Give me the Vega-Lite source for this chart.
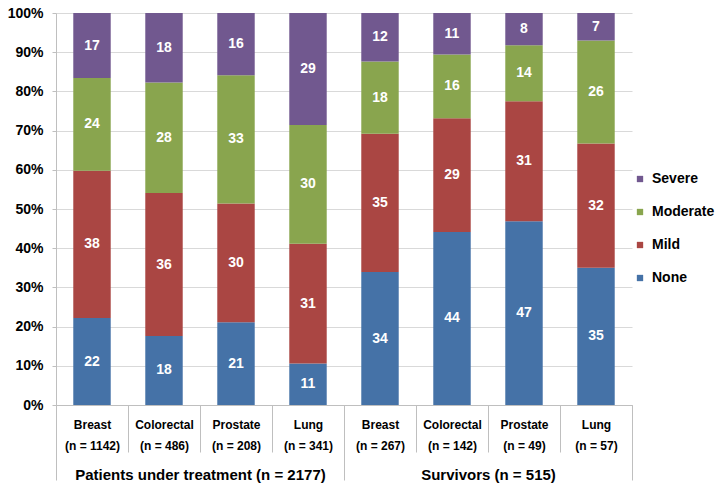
{
  "$schema": "https://vega.github.io/schema/vega-lite/v6.json",
  "autosize": "none",
  "width": 576,
  "height": 392,
  "padding": {"left": 56, "top": 13, "right": 90, "bottom": 84},
  "background": "white",
  "config": {"view": {"stroke": null}, "font": "Liberation Sans"},
  "data": {"values": [
    {"group": "Patients under treatment (n = 2177)", "bar": "Breast|(n = 1142)", "severity": "None", "value": 22.2},
    {"group": "Patients under treatment (n = 2177)", "bar": "Breast|(n = 1142)", "severity": "Mild", "value": 37.6},
    {"group": "Patients under treatment (n = 2177)", "bar": "Breast|(n = 1142)", "severity": "Moderate", "value": 23.7},
    {"group": "Patients under treatment (n = 2177)", "bar": "Breast|(n = 1142)", "severity": "Severe", "value": 16.6},
    {"group": "Patients under treatment (n = 2177)", "bar": "Colorectal|(n = 486)", "severity": "None", "value": 17.6},
    {"group": "Patients under treatment (n = 2177)", "bar": "Colorectal|(n = 486)", "severity": "Mild", "value": 36.4},
    {"group": "Patients under treatment (n = 2177)", "bar": "Colorectal|(n = 486)", "severity": "Moderate", "value": 28.2},
    {"group": "Patients under treatment (n = 2177)", "bar": "Colorectal|(n = 486)", "severity": "Severe", "value": 17.7},
    {"group": "Patients under treatment (n = 2177)", "bar": "Prostate|(n = 208)", "severity": "None", "value": 21.1},
    {"group": "Patients under treatment (n = 2177)", "bar": "Prostate|(n = 208)", "severity": "Mild", "value": 30.3},
    {"group": "Patients under treatment (n = 2177)", "bar": "Prostate|(n = 208)", "severity": "Moderate", "value": 32.7},
    {"group": "Patients under treatment (n = 2177)", "bar": "Prostate|(n = 208)", "severity": "Severe", "value": 15.9},
    {"group": "Patients under treatment (n = 2177)", "bar": "Lung|(n = 341)", "severity": "None", "value": 10.6},
    {"group": "Patients under treatment (n = 2177)", "bar": "Lung|(n = 341)", "severity": "Mild", "value": 30.6},
    {"group": "Patients under treatment (n = 2177)", "bar": "Lung|(n = 341)", "severity": "Moderate", "value": 30.3},
    {"group": "Patients under treatment (n = 2177)", "bar": "Lung|(n = 341)", "severity": "Severe", "value": 28.6},
    {"group": "Survivors (n = 515)", "bar": "Breast|(n = 267)", "severity": "None", "value": 33.9},
    {"group": "Survivors (n = 515)", "bar": "Breast|(n = 267)", "severity": "Mild", "value": 35.3},
    {"group": "Survivors (n = 515)", "bar": "Breast|(n = 267)", "severity": "Moderate", "value": 18.4},
    {"group": "Survivors (n = 515)", "bar": "Breast|(n = 267)", "severity": "Severe", "value": 12.4},
    {"group": "Survivors (n = 515)", "bar": "Colorectal|(n = 142)", "severity": "None", "value": 44.2},
    {"group": "Survivors (n = 515)", "bar": "Colorectal|(n = 142)", "severity": "Mild", "value": 29.0},
    {"group": "Survivors (n = 515)", "bar": "Colorectal|(n = 142)", "severity": "Moderate", "value": 16.3},
    {"group": "Survivors (n = 515)", "bar": "Colorectal|(n = 142)", "severity": "Severe", "value": 10.6},
    {"group": "Survivors (n = 515)", "bar": "Prostate|(n = 49)", "severity": "None", "value": 46.9},
    {"group": "Survivors (n = 515)", "bar": "Prostate|(n = 49)", "severity": "Mild", "value": 30.6},
    {"group": "Survivors (n = 515)", "bar": "Prostate|(n = 49)", "severity": "Moderate", "value": 14.3},
    {"group": "Survivors (n = 515)", "bar": "Prostate|(n = 49)", "severity": "Severe", "value": 8.2},
    {"group": "Survivors (n = 515)", "bar": "Lung|(n = 57)", "severity": "None", "value": 35.0},
    {"group": "Survivors (n = 515)", "bar": "Lung|(n = 57)", "severity": "Mild", "value": 31.7},
    {"group": "Survivors (n = 515)", "bar": "Lung|(n = 57)", "severity": "Moderate", "value": 26.3},
    {"group": "Survivors (n = 515)", "bar": "Lung|(n = 57)", "severity": "Severe", "value": 7.0}
  ]},
  "transform": [
    {"calculate": "indexof(['None','Mild','Moderate','Severe'], datum.severity)", "as": "rank"}
  ],
  "layer": [
    {
      "layer": [
        {
          "mark": {"type": "bar", "width": {"band": 0.52}},
          "encoding": {
            "x": {
              "field": "bar", "type": "nominal", "sort": null,
              "scale": {"paddingInner": 0, "paddingOuter": 0},
              "axis": {
                "title": null, "domainColor": "#BFBFBF", "tickColor": "#BFBFBF",
                "tickSize": 47, "tickBand": "extent", "labelAngle": 0,
                "labelExpr": "split(datum.label, '|')",
                "labelFontSize": 12, "labelFontWeight": "bold", "labelColor": "black",
                "labelBaseline": "top", "labelLineHeight": 21, "labelPadding": -33,
                "labelOverlap": false, "grid": false
              }
            },
            "y": {
              "field": "value", "type": "quantitative", "stack": "normalize",
              "scale": {"domain": [0, 1]},
              "axis": {
                "title": null, "values": [0, 0.1, 0.2, 0.3, 0.4, 0.5, 0.6, 0.7, 0.8, 0.9, 1],
                "format": ".0%", "labelFontSize": 14, "labelFontWeight": "bold",
                "labelColor": "black", "labelPadding": 9, "tickSize": 4, "labelOverlap": false,
                "tickColor": "#BFBFBF", "domainColor": "#BFBFBF", "gridColor": "#D9D9D9"
              }
            },
            "color": {
              "field": "severity", "type": "nominal",
              "scale": {"domain": ["Severe", "Moderate", "Mild", "None"],
                        "range": ["#71588F", "#89A54E", "#AA4643", "#4572A7"]},
              "legend": {
                "title": null, "orient": "none", "legendX": 577, "legendY": 159,
                "symbolType": "square", "symbolSize": 40, "symbolStrokeWidth": 0,
                "labelFontSize": 14, "labelFontWeight": "bold", "labelColor": "black",
                "rowPadding": 19, "labelOffset": 5, "padding": 0
              }
            },
            "order": {"field": "rank", "type": "quantitative"}
          }
        },
        {
          "mark": {"type": "text", "color": "white", "fontSize": 14, "fontWeight": "bold"},
          "encoding": {
            "x": {"field": "bar", "type": "nominal", "sort": null},
            "y": {
              "field": "value", "type": "quantitative", "stack": "normalize", "bandPosition": 0.5,
              "axis": {
                "title": null, "values": [0, 0.1, 0.2, 0.3, 0.4, 0.5, 0.6, 0.7, 0.8, 0.9, 1],
                "format": ".0%", "labelFontSize": 14, "labelFontWeight": "bold",
                "labelColor": "black", "labelPadding": 9, "tickSize": 4, "labelOverlap": false,
                "tickColor": "#BFBFBF", "domainColor": "#BFBFBF", "gridColor": "#D9D9D9"
              }
            },
            "detail": {"field": "severity"},
            "order": {"field": "rank", "type": "quantitative"},
            "text": {"field": "value", "type": "quantitative", "format": ".0f"}
          }
        }
      ]
    },
    {
      "mark": {"type": "tick", "opacity": 0},
      "encoding": {
        "x": {
          "field": "group", "type": "nominal", "sort": null,
          "scale": {"paddingInner": 0, "paddingOuter": 0},
          "axis": {
            "orient": "bottom", "title": null, "domain": false, "tickBand": "extent",
            "tickSize": 75, "tickColor": "#BFBFBF", "labelAngle": 0, "labelLimit": 0,
            "labelFontSize": 15, "labelFontWeight": "bold", "labelColor": "black",
            "labelBaseline": "top", "labelPadding": -13, "grid": false, "labelOverlap": false
          }
        }
      }
    }
  ],
  "resolve": {"scale": {"x": "independent"}}
}
